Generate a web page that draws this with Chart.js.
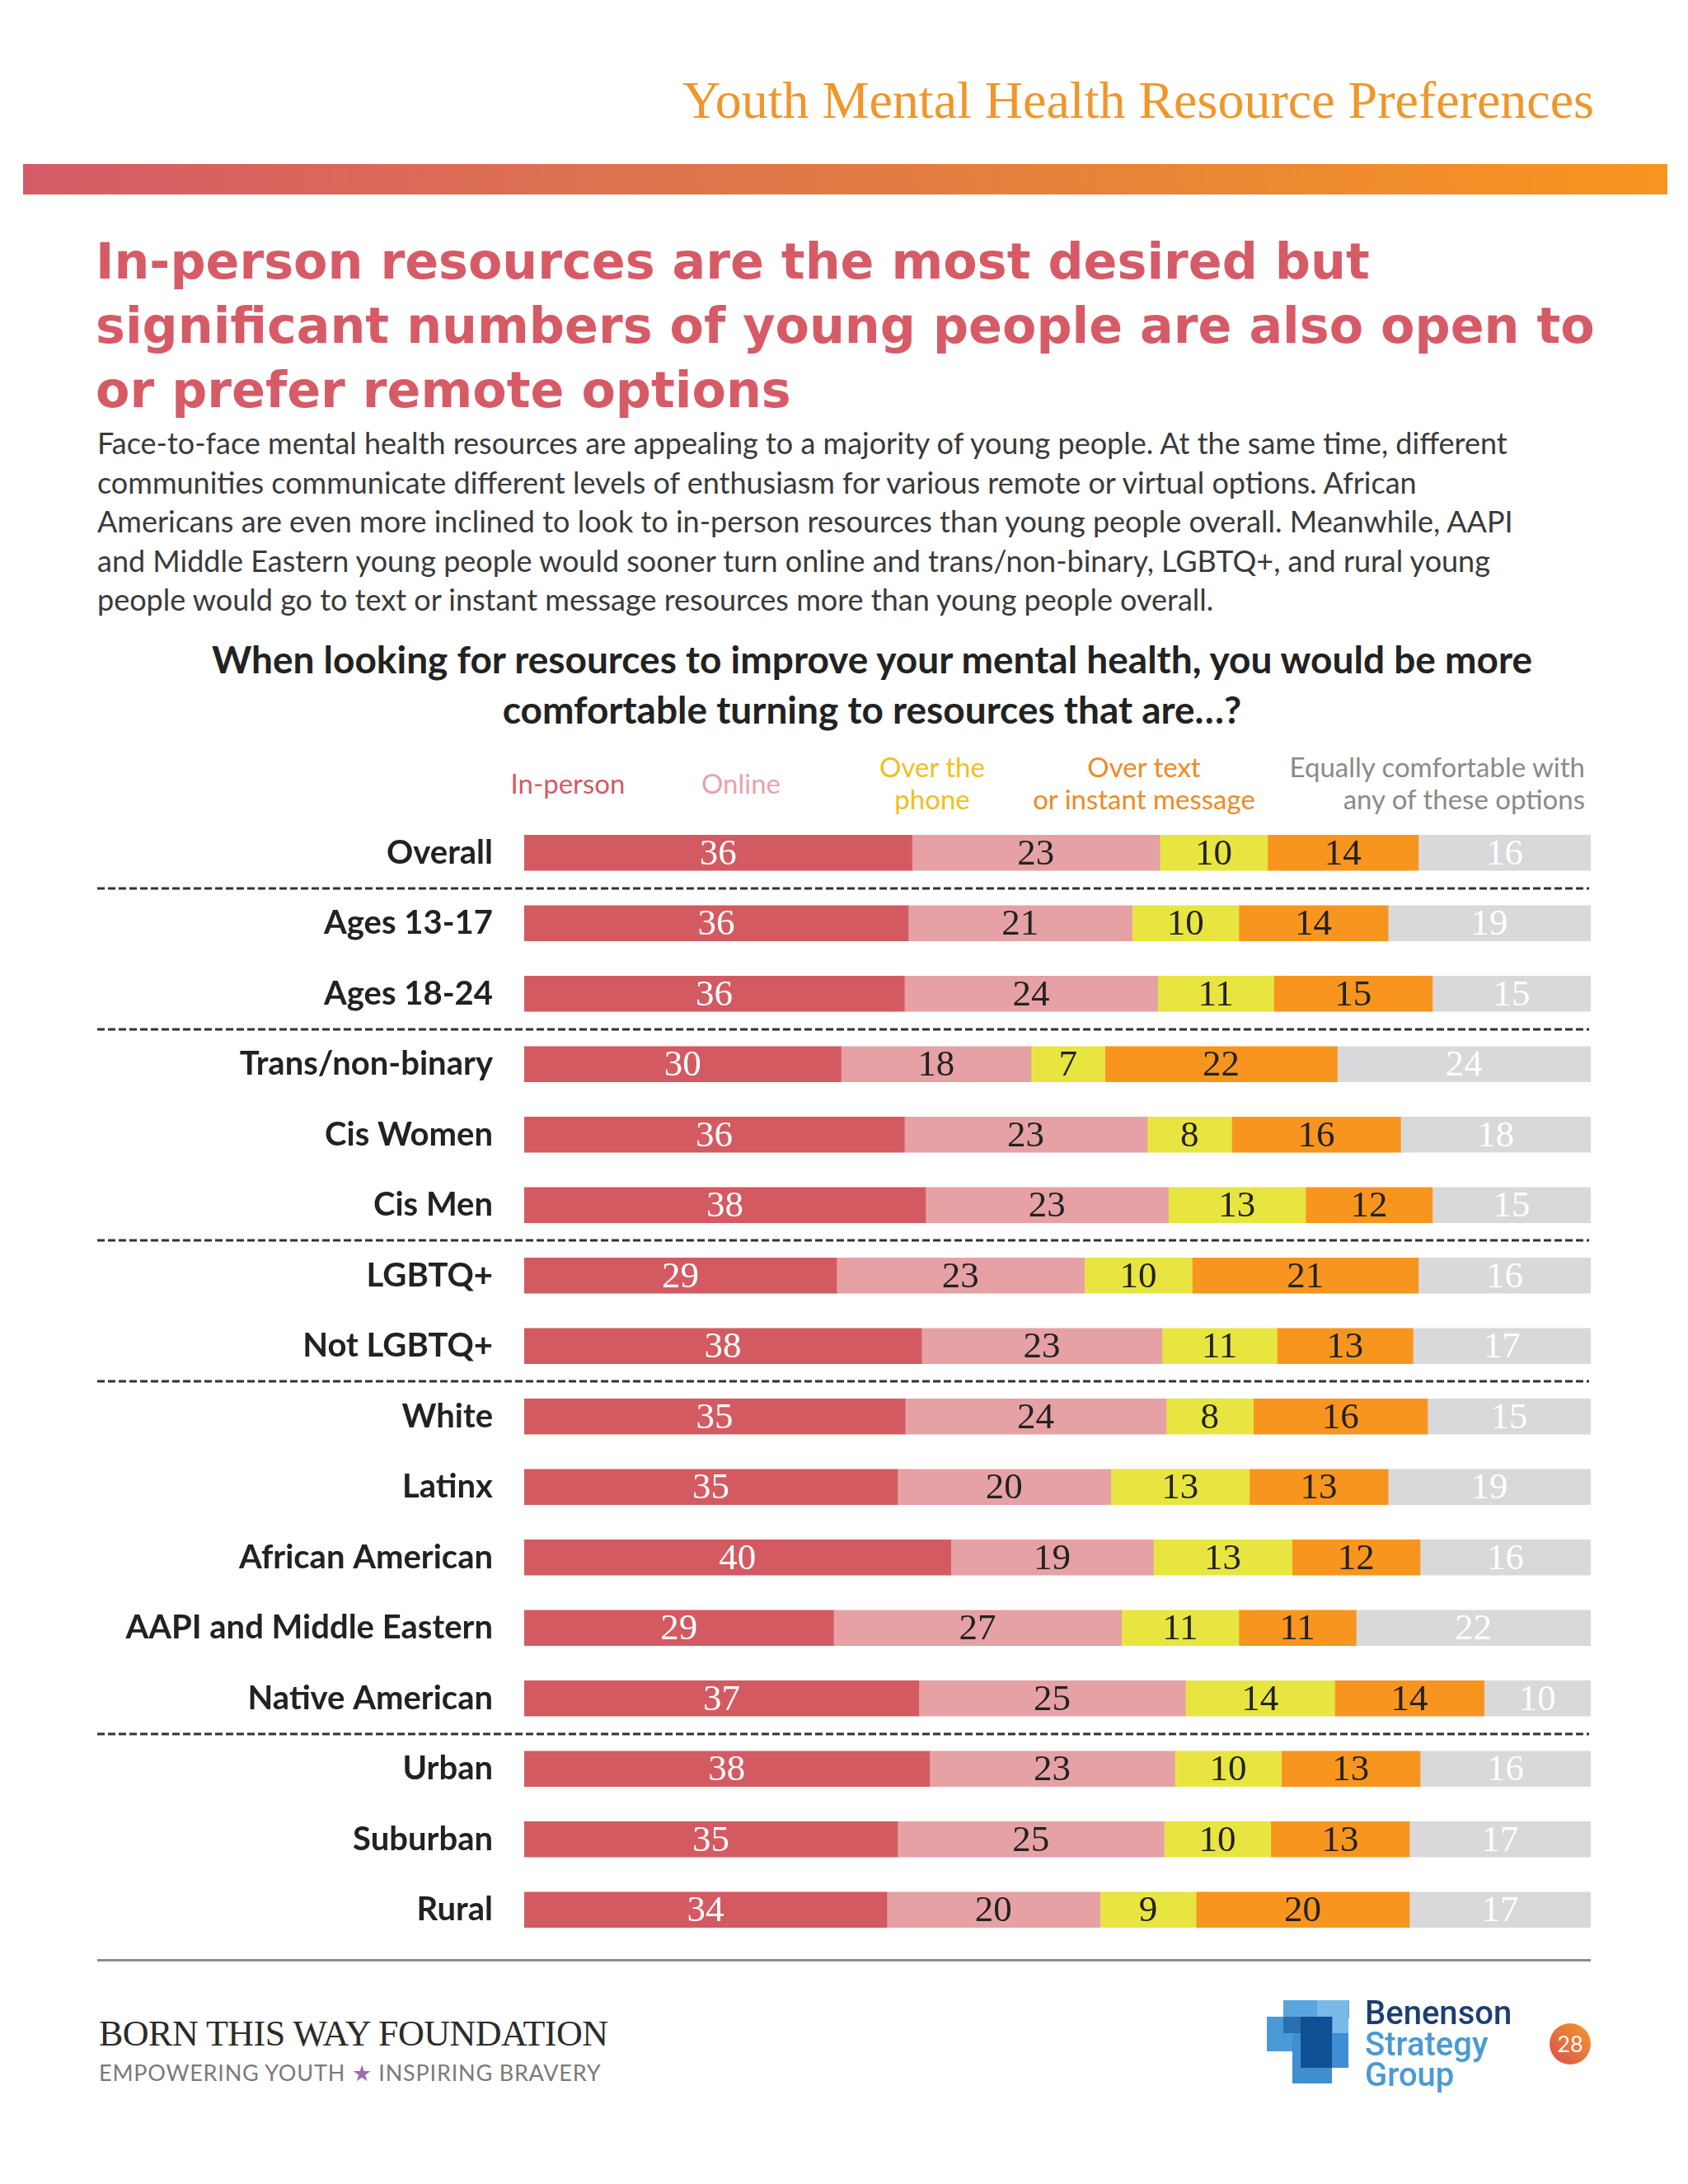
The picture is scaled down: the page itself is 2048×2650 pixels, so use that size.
<!DOCTYPE html>
<html>
<head>
<meta charset="utf-8">
<script src="https://cdn.jsdelivr.net/npm/chart.js@4.4.0/dist/chart.umd.min.js"></script>
<style>
  body { margin: 0; background: #fff; }
  #page { position: relative; width: 2048px; height: 2650px; overflow: hidden; background: #fff; }
  .abs { position: absolute; white-space: nowrap; }
  #header { right: 114px; top: 90px; font: 64px "Liberation Serif", serif; color: #f0962a; line-height: 64px; }
  #band { left: 28px; top: 199px; width: 1995px; height: 37px; background: linear-gradient(90deg, #d45c68, #e27a45 50%, #f7961f); }
  #title { left: 116px; top: 278px; font: 700 60.3px "DejaVu Sans", sans-serif; color: #d65b66; line-height: 78px; }
  #body { left: 118px; top: 514px; font: 36px Lato, sans-serif; color: #3a3a3a; line-height: 47.5px; }
  #question { left: 118px; width: 1880px; top: 769px; font: 700 46px Lato, sans-serif; color: #222; line-height: 61px; text-align: center; }
  .leg { font: 33px Lato, sans-serif; line-height: 39px; text-align: center; }
  #chartBox { position: absolute; left: 0; top: 930px; }
  #rule { left: 118px; top: 2377px; width: 1812px; height: 3px; background: #8c8c8c; }
  #btw { left: 120px; top: 2443px; font: 44px "Liberation Serif", serif; color: #2b2b2b; line-height: 50px; letter-spacing: -0.5px; }
  #tag { left: 120px; top: 2500px; font: 27px Lato, sans-serif; color: #7a7a7a; line-height: 30px; letter-spacing: 0.8px; }
  #tag span { color: #9b6bb5; }
  .sq { position: absolute; }
  .bsg { position: absolute; left: 1656px; font: 500 40px Roboto, sans-serif; line-height: 33px; }
  #pg { left: 1880px; top: 2455px; width: 50px; height: 50px; border-radius: 50%; background: linear-gradient(45deg, #d9504f, #f39a2a); color: #fff; font: 27px Lato, sans-serif; line-height: 50px; text-align: center; }
</style>
</head>
<body>
<div id="page">
  <div id="header" class="abs">Youth Mental Health Resource Preferences</div>
  <div id="band" class="abs"></div>
  <div id="title" class="abs">In-person resources are the most desired but<br>significant numbers of young people are also open to<br>or prefer remote options</div>
  <div id="body" class="abs">Face-to-face mental health resources are appealing to a majority of young people. At the same time, different<br>communities communicate different levels of enthusiasm for various remote or virtual options. African<br>Americans are even more inclined to look to in-person resources than young people overall. Meanwhile, AAPI<br>and Middle Eastern young people would sooner turn online and trans/non-binary, LGBTQ+, and rural young<br>people would go to text or instant message resources more than young people overall.</div>
  <div id="question" class="abs">When looking for resources to improve your mental health, you would be more<br>comfortable turning to resources that are…?</div>

  <div class="abs leg" style="left:589px;width:200px;top:931px;color:#d45a65;">In-person</div>
  <div class="abs leg" style="left:799px;width:200px;top:931px;color:#e8a3aa;">Online</div>
  <div class="abs leg" style="left:1031px;width:200px;top:911px;color:#f2be1c;">Over the<br>phone</div>
  <div class="abs leg" style="left:1238px;width:300px;top:911px;color:#f08a24;">Over text<br>or instant message</div>
  <div class="abs leg" style="right:125px;top:911px;color:#8a8a8a;text-align:right;">Equally comfortable with<br>any of these options</div>

  <div id="chartBox"><canvas id="chart" width="1930" height="1492"></canvas></div>

  <div id="rule" class="abs"></div>
  <div id="btw" class="abs">BORN THIS WAY FOUNDATION</div>
  <div id="tag" class="abs">EMPOWERING YOUTH <span>★</span> INSPIRING BRAVERY</div>

  <div class="sq" style="left:1557px;top:2427px;width:80px;height:22px;background:#5aa5dd;"></div>
  <div class="sq" style="left:1598px;top:2427px;width:38px;height:82px;background:#7ab8e8;"></div>
  <div class="sq" style="left:1537px;top:2447px;width:80px;height:42px;background:#4b9ad6;"></div>
  <div class="sq" style="left:1568px;top:2467px;width:48px;height:61px;background:#3f8fd0;"></div>
  <div class="sq" style="left:1598px;top:2467px;width:38px;height:42px;background:#3d8ed4;"></div>
  <div class="sq" style="left:1578px;top:2447px;width:38px;height:62px;background:#0f4f93;"></div>
  <div class="sq" style="left:1557px;top:2447px;width:21px;height:20px;background:#2a6fae;"></div>
  <div class="bsg" style="top:2426px;color:#1b3f73;">Benenson</div>
  <div class="bsg" style="top:2464px;color:#4a9ad6;">Strategy</div>
  <div class="bsg" style="top:2501px;color:#4a9ad6;">Group</div>
  <div id="pg" class="abs">28</div>
</div>

<script>
const categories = ["Overall", "Ages 13-17", "Ages 18-24", "Trans/non-binary", "Cis Women", "Cis Men",
  "LGBTQ+", "Not LGBTQ+", "White", "Latinx", "African American", "AAPI and Middle Eastern",
  "Native American", "Urban", "Suburban", "Rural"];
const inPerson = [36, 36, 36, 30, 36, 38, 29, 38, 35, 35, 40, 29, 37, 38, 35, 34];
const online   = [23, 21, 24, 18, 23, 23, 23, 23, 24, 20, 19, 27, 25, 23, 25, 20];
const phone    = [10, 10, 11, 7, 8, 13, 10, 11, 8, 13, 13, 11, 14, 10, 10, 9];
const textMsg  = [14, 14, 15, 22, 16, 12, 21, 13, 16, 13, 12, 11, 14, 13, 13, 20];
const equally  = [16, 19, 15, 24, 18, 15, 16, 17, 15, 19, 16, 22, 10, 16, 17, 17];
const seriesNames = ["In-person", "Online", "Over the phone", "Over text or instant message", "Equally comfortable"];
const separatorsAfter = [0, 2, 5, 7, 12];

const raw = [inPerson, online, phone, textMsg, equally];
const colors = ["#d45a62", "#e6a1a5", "#e8e541", "#f7951f", "#d9d9db"];
const labelColors = ["#fff", "#222", "#222", "#222", "#fff"];

// each row is drawn as a share of its own total so every bar fills the width
const totals = categories.map((c, i) => raw.reduce((s, arr) => s + arr[i], 0));

const datasets = raw.map((arr, k) => ({
  label: seriesNames[k],
  data: arr.map((v, i) => v / totals[i] * 100),
  rawValues: arr,
  backgroundColor: colors[k],
  borderWidth: 0,
  barThickness: 43
}));

const valueLabels = {
  id: 'valueLabels',
  afterDatasetsDraw(chart) {
    const ctx = chart.ctx;
    ctx.save();
    ctx.font = '45px "Liberation Serif", serif';
    ctx.textAlign = 'center';
    ctx.textBaseline = 'middle';
    chart.data.datasets.forEach((ds, k) => {
      chart.getDatasetMeta(k).data.forEach((bar, i) => {
        ctx.fillStyle = labelColors[k];
        ctx.fillText(String(ds.rawValues[i]), (bar.x + bar.base) / 2, bar.y + 2);
      });
    });
    ctx.restore();
  }
};

const separators = {
  id: 'separators',
  afterDraw(chart) {
    const ctx = chart.ctx;
    const y = chart.scales.y;
    ctx.save();
    ctx.strokeStyle = '#333';
    ctx.lineWidth = 3;
    ctx.setLineDash([9, 4]);
    separatorsAfter.forEach(i => {
      const py = Math.round((y.getPixelForValue(i) + y.getPixelForValue(i + 1)) / 2);
      ctx.beginPath();
      ctx.moveTo(118, py);
      ctx.lineTo(1928, py);
      ctx.stroke();
    });
    ctx.restore();
  }
};

new Chart(document.getElementById('chart'), {
  type: 'bar',
  data: { labels: categories, datasets: datasets },
  options: {
    indexAxis: 'y',
    responsive: false,
    animation: false,
    devicePixelRatio: 1,
    layout: { padding: 0 },
    plugins: { legend: { display: false }, tooltip: { enabled: false } },
    scales: {
      x: { stacked: true, min: 0, max: 100, display: false },
      y: {
        stacked: true,
        grid: { display: false, drawTicks: false },
        border: { display: false },
        ticks: { color: '#222', padding: 38, font: { family: 'Lato', weight: 'bold', size: 40 } },
        afterFit(scale) { scale.width = 636; }
      }
    }
  },
  plugins: [valueLabels, separators]
});
</script>
</body>
</html>
